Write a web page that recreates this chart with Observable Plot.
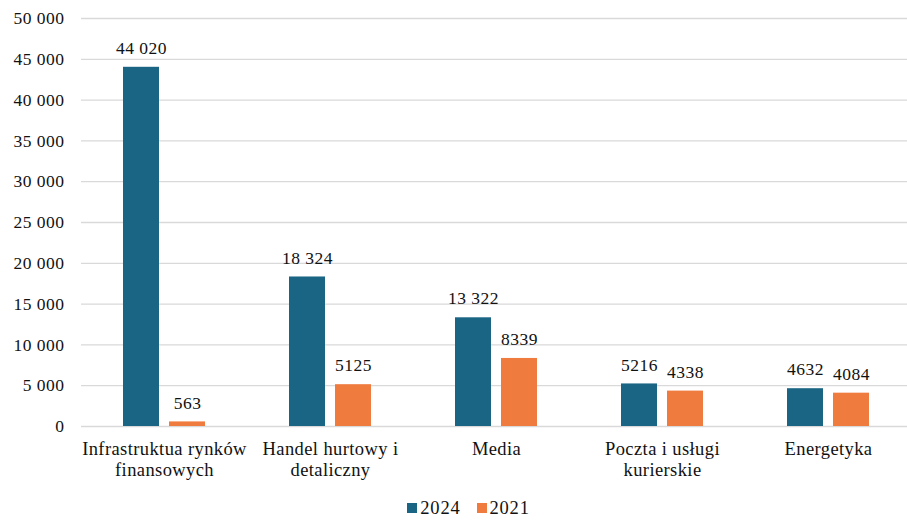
<!DOCTYPE html>
<html>
<head>
<meta charset="utf-8">
<script src="https://cdn.jsdelivr.net/npm/d3@7"></script>
<script src="https://cdn.jsdelivr.net/npm/@observablehq/plot@0.6"></script>
<style>
  html, body { margin: 0; padding: 0; background: #fff; }
  #chart { width: 907px; height: 520px; overflow: hidden; font-family: "Liberation Serif", "Times New Roman", serif; color: #111; }
  #chart svg text { letter-spacing: 0.5px; }
  #chart svg g[aria-label="fx-axis tick label"] text { letter-spacing: 0.4px; }
  .legend { display: flex; justify-content: center; align-items: center; gap: 16px; height: 24px; font-size: 18.5px; letter-spacing: 0.8px; margin-left: 30px; }
  .legend span.sw { display: inline-block; width: 10px; height: 10px; margin-right: 3px; }
  .legend .item { display: flex; align-items: center; }
</style>
</head>
<body>
<div id="chart"></div>
<script>
const categories = ["Infrastruktua rynków finansowych", "Handel hurtowy i detaliczny", "Media", "Poczta i usługi kurierskie", "Energetyka"];
const categoryLabels = ["Infrastruktua rynków\nfinansowych", "Handel hurtowy i\ndetaliczny", "Media", "Poczta i usługi\nkurierskie", "Energetyka"];
const seriesNames = ["2024", "2021"];
const values2024 = [44020, 18324, 13322, 5216, 4632];
const values2021 = [563, 5125, 8339, 4338, 4084];
const labels2024 = ["44 020", "18 324", "13 322", "5216", "4632"];
const labels2021 = ["563", "5125", "8339", "4338", "4084"];
const yTicks = [0, 5000, 10000, 15000, 20000, 25000, 30000, 35000, 40000, 45000, 50000];
const yTickLabels = ["0", "5 000", "10 000", "15 000", "20 000", "25 000", "30 000", "35 000", "40 000", "45 000", "50 000"];
const colors = ["#1b6584", "#f07b3f"];

const data = [];
categories.forEach((c, i) => {
  data.push({category: c, series: "2024", value: values2024[i], label: labels2024[i]});
  data.push({category: c, series: "2021", value: values2021[i], label: labels2021[i]});
});

const chart = Plot.plot({
  width: 907,
  height: 496,
  marginLeft: 80,
  marginRight: -4,
  marginTop: 18,
  marginBottom: 70,
  style: {fontFamily: "'Liberation Serif', 'Times New Roman', serif", fontSize: "17px", color: "#111", background: "#fff"},
  fx: {domain: categories, padding: 0, label: null},
  x: {domain: seriesNames, paddingInner: 0.213, paddingOuter: 0.878, axis: null},
  y: {domain: [0, 50000], label: null},
  color: {domain: seriesNames, range: colors},
  marks: [
    Plot.gridY(yTicks, {stroke: "#d9d9d9", strokeOpacity: 1, strokeWidth: 1.3}),
    Plot.axisY({ticks: yTicks, tickFormat: (d) => yTickLabels[yTicks.indexOf(d)], tickSize: 0, tickPadding: 17, fontSize: 17.5, fontVariant: "normal", label: null}),
    Plot.axisFx({anchor: "bottom", tickSize: 0, tickPadding: 14, fontSize: 18.5, lineHeight: 1.12, tickFormat: (d) => categoryLabels[categories.indexOf(d)], label: null}),
    Plot.barY(data, {fx: "category", x: "series", y: "value", fill: "series"}),
    Plot.text(data, {fx: "category", x: "series", y: "value", text: "label", dy: -19, fontSize: 17.5, fill: "#111"})
  ]
});

const root = document.getElementById("chart");
root.appendChild(chart);
const legend = document.createElement("div");
legend.className = "legend";
seriesNames.forEach((s, i) => {
  const item = document.createElement("div");
  item.className = "item";
  const sw = document.createElement("span");
  sw.className = "sw";
  sw.style.background = colors[i];
  item.appendChild(sw);
  item.appendChild(document.createTextNode(s));
  legend.appendChild(item);
});
root.appendChild(legend);
</script>
</body>
</html>
